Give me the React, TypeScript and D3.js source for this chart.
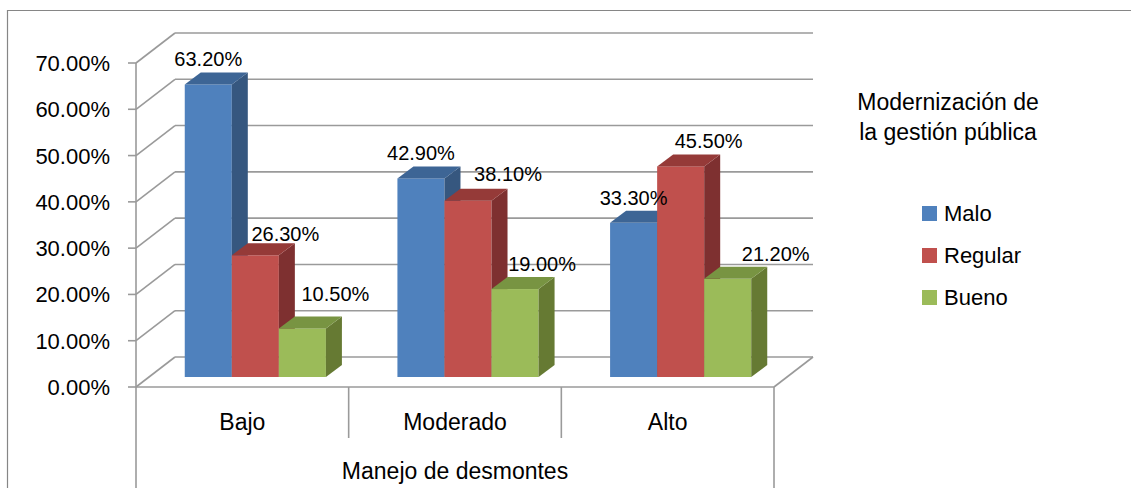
import React from 'react';
import * as d3 from 'd3';

// data
const categories = ['Bajo', 'Moderado', 'Alto'];
const seriesNames = ['Malo', 'Regular', 'Bueno'];
const malo = [63.2, 42.9, 33.3];
const regular = [26.3, 38.1, 45.5];
const bueno = [10.5, 19.0, 21.2];
const yTicks = [0, 10, 20, 30, 40, 50, 60, 70];
const legendTitle = ['Modernización de', 'la gestión pública'];
const axisTitle = 'Manejo de desmontes';

const seriesValues = [malo, regular, bueno];

const COLORS = [
    { front: '#4F81BD', side: '#36577F', top: '#3D6595' },
    { front: '#C0504D', side: '#7E3030', top: '#953A38' },
    { front: '#9BBB59', side: '#667A33', top: '#789442' },
];

// Excel pushes some labels sideways to keep them clear; [dx, dy] per category/series
const LABEL_NUDGE = [
    [[0, 0], [30, 4], [33, -9]],
    [[0, 0], [40, -2], [27, 0]],
    [[0, 0], [28, 0], [48, 0]],
];

const FONT = "'Liberation Sans', Arial, sans-serif";
const GRID = '#9A9A9A';

const App = () => {
    const W = 1131, H = 488;
    const left = 136, right = 774;
    const depthX = 39, depthY = 30;     // full floor depth
    const barOffX = 13, barOffY = 10;   // bar front plane
    const barDX = 16, barDY = 12;       // bar thickness

    const y = d3.scaleLinear().domain([0, 70]).range([387, 63]);
    const x0 = d3.scaleBand().domain(categories).range([left, right]).paddingInner(0).paddingOuter(0);
    const x1 = d3.scaleBand().domain(seriesNames).range([0, x0.bandwidth()]).paddingInner(0).paddingOuter(0.76);

    const bars = [];
    const labels = [];
    categories.forEach((cat, ci) => {
        seriesNames.forEach((s, si) => {
            const v = seriesValues[si][ci];
            const xa = (x0(cat) as number) + (x1(s) as number) + barOffX;
            const xb = xa + x1.bandwidth();
            const base = y(0) - barOffY;
            const topY = y(v) - barOffY;
            const c = COLORS[si];
            bars.push(
                <g key={cat + s}>
                    <rect x={xa} y={topY} width={xb - xa} height={base - topY} fill={c.front} />
                    <polygon
                        points={`${xb},${topY} ${xb + barDX},${topY - barDY} ${xb + barDX},${base - barDY} ${xb},${base}`}
                        fill={c.side}
                    />
                    <polygon
                        points={`${xa},${topY} ${xa + barDX},${topY - barDY} ${xb + barDX},${topY - barDY} ${xb},${topY}`}
                        fill={c.top}
                    />
                </g>
            );
            const [ndx, ndy] = LABEL_NUDGE[ci][si];
            labels.push(
                <text key={'l' + cat + s} x={(xa + xb) / 2 + ndx} y={topY - barDY - 6 + ndy}
                    textAnchor="middle" fontSize={20} fontFamily={FONT} fill="#000">
                    {v.toFixed(2) + '%'}
                </text>
            );
        });
    });

    return (
        <div style={{ position: 'absolute', left: 0, top: 0 }}>
            <svg width={W} height={H} style={{ display: 'block', background: '#fff' }}>
                {/* chart frame */}
                <path d={`M7.5,${H + 2}V10.5H${W + 2}`} fill="none" stroke="#868686" strokeWidth={1.2} />

                {/* back wall gridlines and side wall diagonals */}
                {yTicks.map(t => (
                    <g key={'g' + t} stroke={GRID} strokeWidth={1.6} fill="none">
                        <line x1={left + depthX} x2={right + depthX} y1={y(t) - depthY} y2={y(t) - depthY} />
                        <line x1={left} x2={left + depthX} y1={y(t)} y2={y(t) - depthY} />
                        <line x1={left - 8} x2={left} y1={y(t)} y2={y(t)} />
                    </g>
                ))}
                {/* floor front edge and right diagonal */}
                <g stroke={GRID} strokeWidth={1.6} fill="none">
                    <line x1={left} x2={right} y1={y(0)} y2={y(0)} />
                    <line x1={right} x2={right + depthX} y1={y(0)} y2={y(0) - depthY} />
                    <line x1={left} x2={left} y1={y(70)} y2={H} />
                    <line x1={right} x2={right} y1={y(0)} y2={H} />
                    {categories.slice(1).map(cat => (
                        <line key={'d' + cat} x1={x0(cat)} x2={x0(cat)} y1={y(0)} y2={438} />
                    ))}
                </g>

                {/* y axis labels */}
                {yTicks.map(t => (
                    <text key={'t' + t} x={110} y={y(t) + 8} textAnchor="end" fontSize={22} fontFamily={FONT} fill="#000">
                        {t.toFixed(2) + '%'}
                    </text>
                ))}

                {bars}
                {labels}

                {/* category labels */}
                {categories.map(cat => (
                    <text key={'c' + cat} x={(x0(cat) as number) + x0.bandwidth() / 2} y={430}
                        textAnchor="middle" fontSize={23} fontFamily={FONT} fill="#000">{cat}</text>
                ))}
                <text x={(left + right) / 2} y={479} textAnchor="middle" fontSize={23} fontFamily={FONT} fill="#000">
                    {axisTitle}
                </text>

                {/* legend */}
                {legendTitle.map((line, i) => (
                    <text key={'lt' + i} x={948} y={110 + i * 30} textAnchor="middle" fontSize={23} fontFamily={FONT} fill="#000">
                        {line}
                    </text>
                ))}
                {seriesNames.map((s, i) => (
                    <g key={'lg' + s} transform={`translate(922,${206 + i * 42})`}>
                        <rect width={15} height={15} fill={COLORS[i].front} />
                        <text x={22} y={15} fontSize={22} fontFamily={FONT} fill="#000">{s}</text>
                    </g>
                ))}
            </svg>
        </div>
    );
};

export default App;
